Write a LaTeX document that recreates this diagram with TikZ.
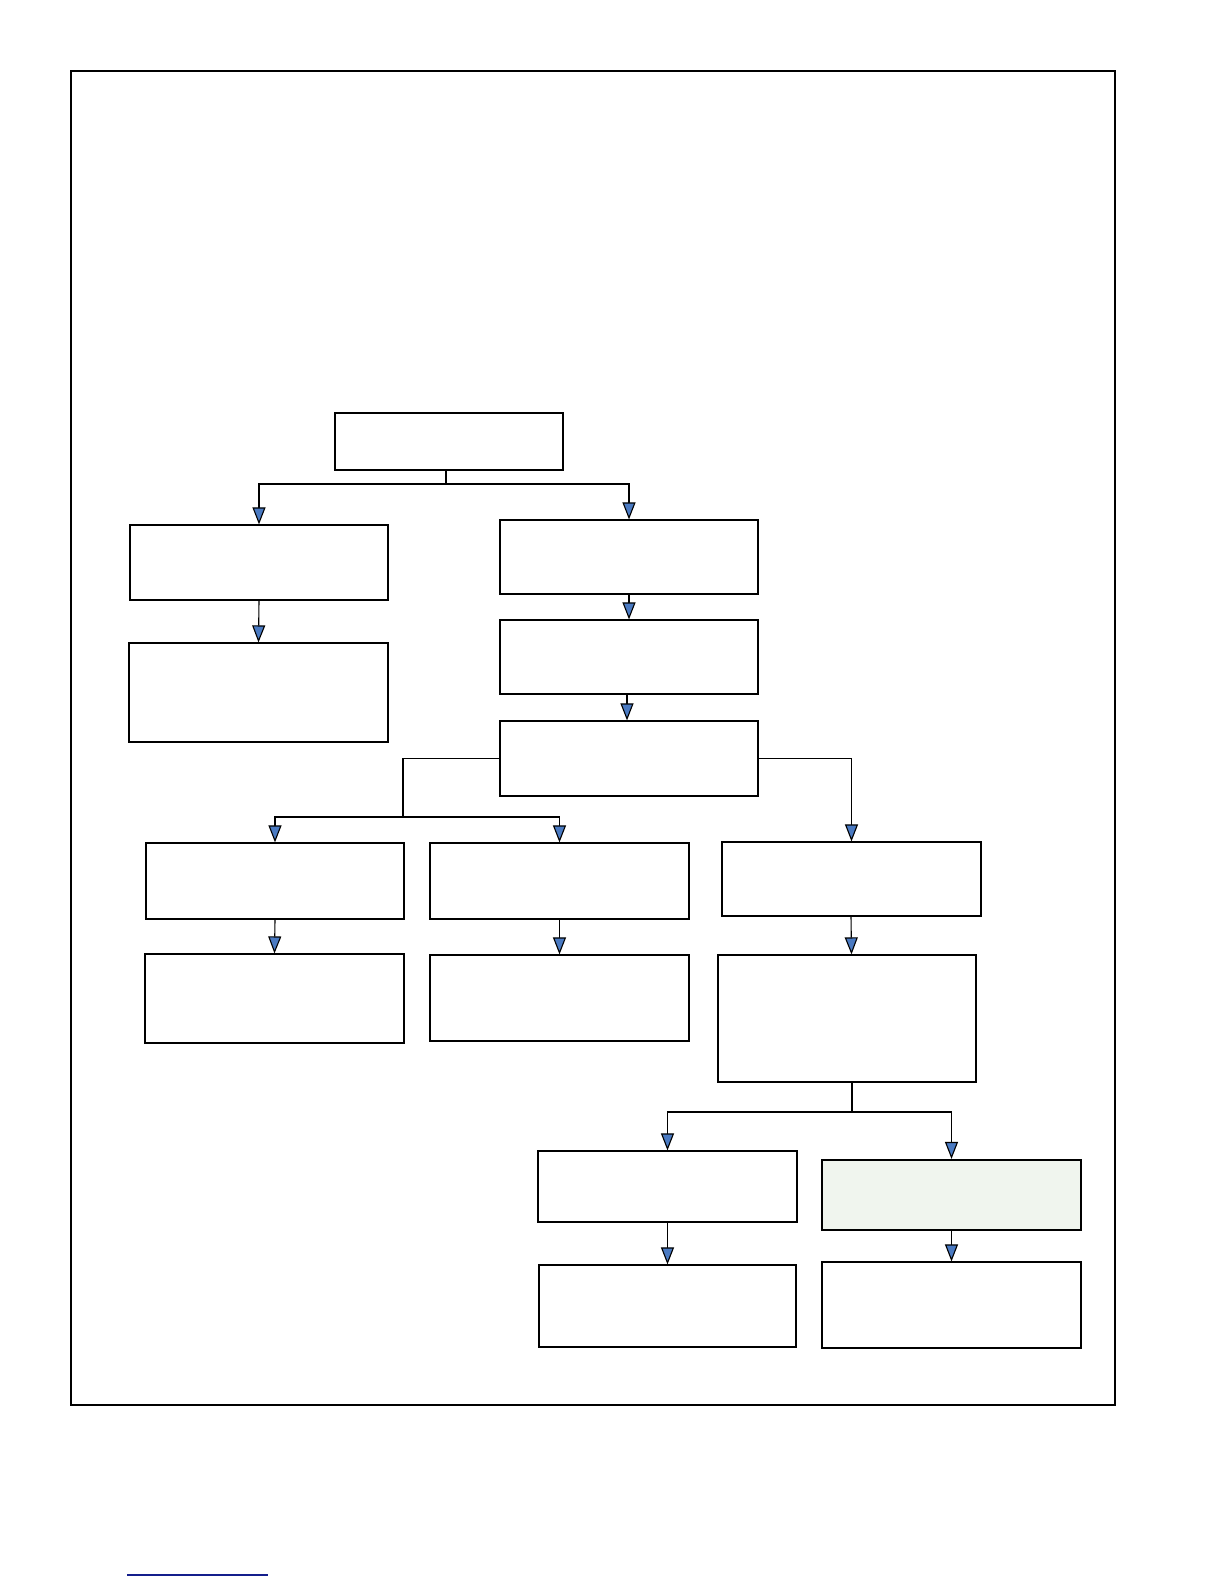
\documentclass[tikz,border=0pt]{standalone}
\usetikzlibrary{arrows.meta}
\definecolor{arrowblue}{RGB}{74,122,194}
\definecolor{palegreen}{RGB}{240,245,238}
\definecolor{linkblue}{RGB}{20,30,140}
\begin{document}
\begin{tikzpicture}[x=1pt,y=-1pt,
  boxx/.style={draw=black,line width=1.2pt,fill=white,inner sep=0pt},
  hlbox/.style={draw=black,line width=2.2pt,fill=palegreen,inner sep=0pt},
  conn/.style={draw=black,line width=1.1pt},
  arr/.style={conn,-{Triangle[length=17pt,width=13pt,fill=arrowblue,line width=1.1pt]}}]
\useasboundingbox (0,0) rectangle (1224,1584);
\fill[white] (0,0) rectangle (1224,1584);
\draw[line width=2pt] (71,71) rectangle (1115,1405);
% boxes
\node[minimum width=228pt,minimum height=57pt,boxx] (T) at (449,441.5) {};
\node[minimum width=258pt,minimum height=75pt,boxx] (L1) at (259,562.5) {};
\node[minimum width=259pt,minimum height=99pt,boxx] (L2) at (258.5,692.5) {};
\node[minimum width=258pt,minimum height=74pt,boxx] (R1) at (629,557) {};
\node[minimum width=258pt,minimum height=74pt,boxx] (R2) at (629,657) {};
\node[minimum width=258pt,minimum height=75pt,boxx] (R3) at (629,758.5) {};
\node[minimum width=258pt,minimum height=76pt,boxx] (A1) at (275,881) {};
\node[minimum width=259pt,minimum height=89pt,boxx] (A2) at (274.5,998.5) {};
\node[minimum width=259pt,minimum height=76pt,boxx] (B1) at (559.5,881) {};
\node[minimum width=259pt,minimum height=86pt,boxx] (B2) at (559.5,998) {};
\node[minimum width=259pt,minimum height=74pt,boxx] (C1) at (851.5,879) {};
\node[minimum width=258pt,minimum height=127pt,boxx] (C2) at (847,1018.5) {};
\node[minimum width=259pt,minimum height=71pt,boxx] (D1) at (667.5,1186.5) {};
\node[minimum width=257pt,minimum height=82pt,boxx] (D2) at (667.5,1306) {};
\node[minimum width=259pt,minimum height=70pt,hlbox] (E1) at (951.5,1195) {};
\node[minimum width=259pt,minimum height=86pt,boxx] (E2) at (951.5,1305) {};
% connectors
\coordinate (j1) at (446,484);
\draw[conn] (T.south -| j1) -- (j1);
\draw[arr] (j1) -| (L1.north);
\draw[arr] (j1) -| (R1.north);
\draw[arr] (L1.south) -- (L2.north);
\draw[arr] (R1.south) -- (R2.north);
\draw[arr] ([xshift=-2pt]R2.south) -- ([xshift=-2pt]R3.north);
\coordinate (j2) at (403,817);
\draw[conn] (R3.west) -| (j2);
\draw[arr] (j2) -| (A1.north);
\draw[arr] (j2) -| (B1.north);
\draw[arr] (R3.east) -| (C1.north);
\draw[arr] (A1.south) -- (A2.north);
\draw[arr] (B1.south) -- (B2.north);
\draw[arr] ([xshift=-0.5pt]C1.south) -- (C1.south |- C2.north);
\coordinate (j3) at (852,1112);
\draw[conn] (j3 |- C2.south) -- (j3);
\draw[arr] (j3) -| (D1.north);
\draw[arr] (j3) -| (E1.north);
\draw[arr] (D1.south) -- (D2.north);
\draw[arr] (E1.south) -- (E2.north);
% link underline
\coordinate (u1) at (127,1575);
\coordinate (u2) at (268,1575);
\draw[linkblue,line width=1.2pt] (u1) -- (u2);
\end{tikzpicture}
\end{document}
